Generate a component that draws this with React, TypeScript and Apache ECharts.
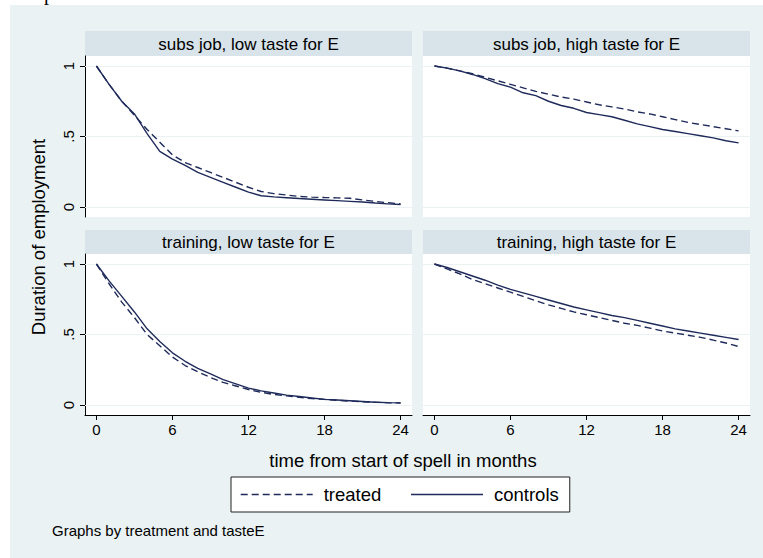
import React, { useEffect, useRef } from "react";
import * as echarts from "echarts";

const months = [0, 1, 2, 3, 4, 5, 6, 7, 8, 9, 10, 11, 12, 13, 14, 15, 16, 17, 18, 19, 20, 21, 22, 23, 24];
const xTicks = [0, 6, 12, 18, 24];
const yTicks = [0, 0.5, 1];
const yTickLabels = ["0", ".5", "1"];
const seriesNames = ["treated", "controls"];
const panelTitles = [
  "subs job, low taste for E",
  "subs job, high taste for E",
  "training, low taste for E",
  "training, high taste for E",
];

// subs job, low taste for E
const subsLowTreated = [1.0, 0.87, 0.75, 0.65, 0.55, 0.46, 0.37, 0.315, 0.28, 0.245, 0.21, 0.175, 0.14, 0.11, 0.095, 0.085, 0.075, 0.07, 0.067, 0.065, 0.062, 0.05, 0.04, 0.03, 0.022];
const subsLowControls = [1.0, 0.87, 0.75, 0.66, 0.52, 0.395, 0.34, 0.295, 0.245, 0.21, 0.175, 0.14, 0.105, 0.08, 0.072, 0.066, 0.06, 0.055, 0.05, 0.045, 0.04, 0.035, 0.028, 0.022, 0.018];
// subs job, high taste for E
const subsHighTreated = [1.0, 0.985, 0.965, 0.945, 0.92, 0.895, 0.87, 0.845, 0.82, 0.8, 0.78, 0.765, 0.745, 0.725, 0.71, 0.695, 0.675, 0.66, 0.64, 0.62, 0.6, 0.585, 0.57, 0.555, 0.54];
const subsHighControls = [1.0, 0.985, 0.965, 0.94, 0.91, 0.875, 0.85, 0.81, 0.79, 0.75, 0.72, 0.7, 0.67, 0.655, 0.64, 0.615, 0.59, 0.57, 0.55, 0.535, 0.52, 0.505, 0.49, 0.47, 0.455];
// training, low taste for E
const trainLowTreated = [1.0, 0.86, 0.73, 0.62, 0.5, 0.42, 0.34, 0.28, 0.235, 0.195, 0.16, 0.135, 0.11, 0.09, 0.075, 0.065, 0.055, 0.045, 0.04, 0.033, 0.028, 0.023, 0.02, 0.016, 0.014];
const trainLowControls = [1.0, 0.88, 0.77, 0.66, 0.54, 0.45, 0.37, 0.31, 0.26, 0.22, 0.18, 0.15, 0.12, 0.1, 0.085, 0.07, 0.06, 0.05, 0.04, 0.035, 0.03, 0.025, 0.02, 0.017, 0.015];
// training, high taste for E
const trainHighTreated = [1.0, 0.965, 0.93, 0.89, 0.86, 0.83, 0.8, 0.77, 0.74, 0.71, 0.685, 0.66, 0.64, 0.62, 0.6, 0.58, 0.565, 0.545, 0.525, 0.51, 0.495, 0.48, 0.46, 0.44, 0.415];
const trainHighControls = [1.0, 0.975, 0.945, 0.915, 0.885, 0.85, 0.82, 0.795, 0.77, 0.745, 0.72, 0.695, 0.675, 0.655, 0.635, 0.62, 0.6, 0.58, 0.56, 0.54, 0.525, 0.51, 0.495, 0.48, 0.465];

const panelData = [
  [subsLowTreated, subsLowControls],
  [subsHighTreated, subsHighControls],
  [trainLowTreated, trainLowControls],
  [trainHighTreated, trainHighControls],
];

const FONT = "'Liberation Sans', Arial, Helvetica, sans-serif";
const LINE = "#1e2a5a";
const BG = "#EAF2F3";
const STRIP = "#D8E4EA";

const PW = 327;
const PH = 161;
const panelPos = [
  { left: 85, top: 56, headTop: 31, headH: 25 },
  { left: 423, top: 56, headTop: 31, headH: 25 },
  { left: 85, top: 254, headTop: 230, headH: 24 },
  { left: 423, top: 254, headTop: 230, headH: 24 },
];

export default function App() {
  const ref = useRef<HTMLDivElement>(null);
  useEffect(() => {
    if (!ref.current) return;
    const chart = echarts.init(ref.current, null, { renderer: "svg" });

    const grids = panelPos.map((p) => ({ left: p.left, top: p.top, width: PW, height: PH, containLabel: false }));
    const xAxes = panelPos.map((p, i) => {
      const bottom = i >= 2;
      return {
        type: "value",
        gridIndex: i,
        min: -0.9,
        max: 24.9,
        axisLine: { show: bottom, onZero: false, lineStyle: { color: "#000", width: 1 } },
        axisTick: { show: bottom, customValues: xTicks, length: 5, lineStyle: { color: "#000", width: 1 } },
        axisLabel: { show: bottom, customValues: xTicks, margin: 7, fontSize: 15, color: "#000", fontFamily: FONT },
        splitLine: { show: false },
      };
    });
    const yAxes = panelPos.map((p, i) => {
      const left = i % 2 === 0;
      return {
        type: "value",
        gridIndex: i,
        min: -0.0709,
        max: 1.0709,
        axisLine: { show: left, onZero: false, lineStyle: { color: "#000", width: 1 } },
        axisTick: { show: left, customValues: yTicks, length: 5, lineStyle: { color: "#000", width: 1 } },
        axisLabel: {
          show: left,
          customValues: yTicks,
          rotate: 90,
          margin: 9,
          fontSize: 15,
          color: "#000",
          fontFamily: FONT,
          formatter: (v: number) => {
            const k = yTicks.findIndex((t) => Math.abs(t - v) < 1e-9);
            return k >= 0 ? yTickLabels[k] : "";
          },
        },
        splitLine: { show: false },
      };
    });

    const series: any[] = [];
    panelData.forEach((pair, i) => {
      pair.forEach((vals, s) => {
        series.push({
          type: "line",
          name: seriesNames[s],
          xAxisIndex: i,
          yAxisIndex: i,
          data: months.map((m, k) => [m, vals[k]]),
          symbol: "none",
          showSymbol: false,
          silent: true,
          color: LINE,
          itemStyle: { color: LINE },
          lineStyle: { color: LINE, width: 1.4, type: s === 0 ? [7, 4] : "solid" },
          z: 3,
          markLine:
            s === 0
              ? {
                  silent: true,
                  symbol: ["none", "none"],
                  label: { show: false },
                  lineStyle: { color: BG, width: 1.2, type: "solid" },
                  data: yTicks.map((t) => ({ yAxis: t })),
                  z: 1,
                }
              : undefined,
        });
      });
    });

    const graphic: any[] = [
      { type: "rect", z: -100, shape: { x: 10, y: 5, width: 753, height: 553 }, style: { fill: BG } },
      {
        type: "text",
        z: -90,
        x: 44,
        y: 3,
        style: { text: "p", fontSize: 20, fontFamily: "'Liberation Serif', serif", fill: "#000", verticalAlign: "bottom" },
      },
    ];
    panelPos.forEach((p, i) => {
      graphic.push({ type: "rect", z: -90, shape: { x: p.left, y: p.headTop, width: PW, height: p.headH }, style: { fill: STRIP } });
      graphic.push({ type: "rect", z: -90, shape: { x: p.left, y: p.top, width: PW, height: PH }, style: { fill: "#fff" } });
      graphic.push({
        type: "text",
        z: 10,
        x: p.left + PW / 2,
        y: p.headTop + p.headH / 2 + 0.5,
        style: { text: panelTitles[i], fontSize: 17, fontFamily: FONT, fill: "#000", align: "center", verticalAlign: "middle" },
      });
    });
    graphic.push({
      type: "text",
      z: 10,
      x: 38,
      y: 237,
      rotation: Math.PI / 2,
      style: { text: "Duration of employment", fontSize: 18.5, fontFamily: FONT, fill: "#000", align: "center", verticalAlign: "middle" },
    });
    graphic.push({
      type: "text",
      z: 10,
      x: 403,
      y: 460,
      style: { text: "time from start of spell in months", fontSize: 18.5, fontFamily: FONT, fill: "#000", align: "center", verticalAlign: "middle" },
    });
    graphic.push({
      type: "text",
      z: 10,
      x: 52,
      y: 530,
      style: { text: "Graphs by treatment and tasteE", fontSize: 15, fontFamily: FONT, fill: "#000", align: "left", verticalAlign: "middle" },
    });

    chart.setOption({
      animation: false,
      backgroundColor: "#fff",
      grid: grids,
      xAxis: xAxes,
      yAxis: yAxes,
      series,
      graphic,
      legend: {
        data: seriesNames,
        left: 231,
        top: 477,
        orient: "horizontal",
        itemWidth: 72,
        itemHeight: 14,
        itemGap: 29,
        padding: [8, 11, 8, 9],
        backgroundColor: "#fff",
        borderColor: "#222",
        borderWidth: 1,
        borderRadius: 0,
        selectedMode: false,
        itemStyle: { opacity: 0, color: "transparent", borderWidth: 0 },
        lineStyle: { width: 1.4, color: LINE },
        textStyle: { fontSize: 18.5, color: "#000", fontFamily: FONT, padding: [0, 0, 0, 6] },
      },
    });
    return () => chart.dispose();
  }, []);
  return <div ref={ref} style={{ position: "fixed", left: 0, top: 0, width: 763, height: 558 }} />;
}
